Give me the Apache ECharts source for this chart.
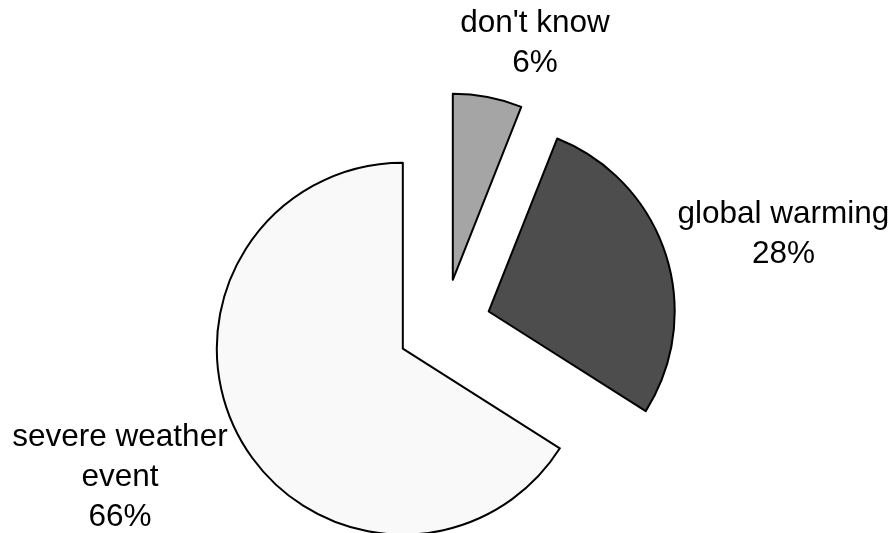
<!DOCTYPE html>
<html><head><meta charset="utf-8">
<script src="https://cdn.jsdelivr.net/npm/echarts@6/dist/echarts.min.js"></script>
<style>html,body{margin:0;padding:0;background:#fff}#c{width:893px;height:533px}</style>
</head><body><div id="c"></div>
<script>
const categories = ["don't know", "global warming", "severe weather\nevent"];
const values = [6, 28, 66];
const sliceColors = ['#a5a5a5', '#4d4d4d', '#f9f9f9'];
const labelLineLengths = [[55, 32], [65, 51], [82, 43]];

const chart = echarts.init(document.getElementById('c'), null, {renderer: 'canvas'});
chart.setOption({
  animation: false,
  backgroundColor: '#ffffff',
  series: [{
    type: 'pie',
    center: [444, 326],
    radius: 186,
    startAngle: 90,
    clockwise: true,
    selectedMode: 'multiple',
    selectedOffset: 47,
    avoidLabelOverlap: false,
    emphasis: {disabled: true},
    itemStyle: {borderColor: '#000', borderWidth: 2},
    label: {show: true, position: 'outside', formatter: '{b}\n{c}%', fontFamily: 'Liberation Sans, Arial, sans-serif', fontSize: 31.5, lineHeight: 40, color: '#000'},
    labelLine: {show: false},
    labelLayout: function () { return {align: 'center'}; },
    data: categories.map((name, i) => ({
      name: name, value: values[i], selected: true,
      itemStyle: {color: sliceColors[i]},
      labelLine: {show: false, length: labelLineLengths[i][0], length2: labelLineLengths[i][1]}
    }))
  }]
});
</script></body></html>
